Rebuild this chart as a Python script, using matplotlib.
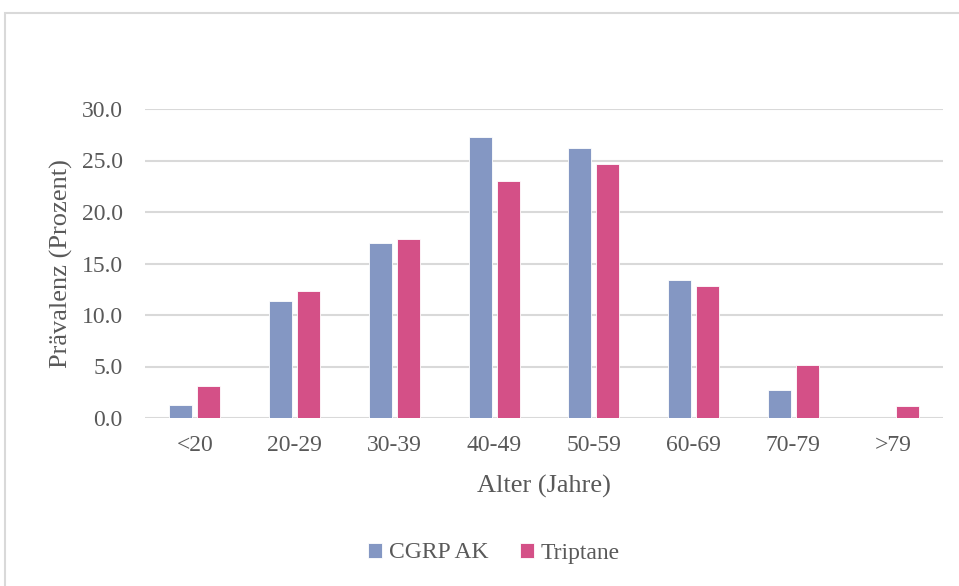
import matplotlib.pyplot as plt
import numpy as np
from matplotlib.patches import Rectangle

plt.rcParams.update({
    'font.family': ['Liberation Serif', 'DejaVu Serif'],
    'font.size': 17,
})

# Data
age_groups = ['<20', '20-29', '30-39', '40-49', '50-59', '60-69', '70-79', '>79']
cgrp_ak = [1.3, 11.4, 17.0, 27.3, 26.2, 13.4, 2.7, 0.0]
triptane = [3.1, 12.3, 17.4, 23.0, 24.7, 12.8, 5.1, 1.2]
y_ticks = [0, 5, 10, 15, 20, 25, 30]

blue = '#8497c3'
pink = '#d45087'
text_gray = '#595959'

fig = plt.figure(figsize=(9.59, 5.86), dpi=100)
fig.patch.set_facecolor('white')

# chart frame (cut at the right and bottom like the screenshot)
fig.add_artist(Rectangle((5 / 959, -0.1), 1.1, 1 - 13 / 586 + 0.1,
                         transform=fig.transFigure, fill=False,
                         edgecolor='#d9d9d9', linewidth=1.5))

ax = fig.add_axes([145 / 959, 1 - 418 / 586, (943 - 145) / 959, (418 - 109) / 586])

x = np.arange(len(age_groups))
w = 0.23
ax.bar(x - 0.14, cgrp_ak, w, color=blue, edgecolor='white', linewidth=0.6,
       label='CGRP AK', zorder=3)
ax.bar(x + 0.14, triptane, w, color=pink, edgecolor='white', linewidth=0.6,
       label='Triptane', zorder=3)

ax.set_xlim(-0.5, len(age_groups) - 0.5)
ax.set_ylim(0, 30)
ax.set_yticks(y_ticks)
ax.set_yticklabels([f'{v:.1f}' for v in y_ticks])
ax.set_xticks(x)
ax.set_xticklabels(age_groups)
ax.tick_params(length=0, colors=text_gray, labelsize=17)
ax.tick_params(axis='y', pad=16)
ax.tick_params(axis='x', pad=12)

ax.grid(axis='y', color='#d9d9d9', linewidth=1.5, zorder=0)
ax.set_axisbelow(True)
for s in ax.spines.values():
    s.set_visible(False)

ax.set_xlabel('Alter (Jahre)', fontsize=19, color=text_gray, labelpad=14)
ax.set_ylabel('Prävalenz (Prozent)', fontsize=19, color=text_gray, labelpad=6)

leg = fig.legend(loc='center', bbox_to_anchor=(494 / 959, 1 - 553 / 586), ncol=2,
                 frameon=False, fontsize=17, handlelength=0.6, handleheight=0.6,
                 handletextpad=0.3, columnspacing=1.3)
for t in leg.get_texts():
    t.set_color(text_gray)

fig.savefig('out.png', dpi=100)
